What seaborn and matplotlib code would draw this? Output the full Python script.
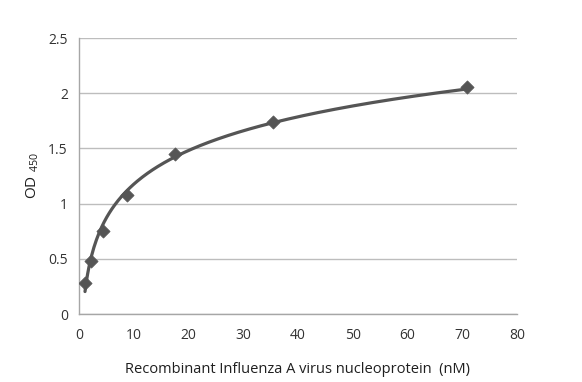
import numpy as np
import pandas as pd
import seaborn as sns
import matplotlib.pyplot as plt

# data
konsentrasi = [1.1, 2.2, 4.4, 8.8, 17.6, 35.4, 70.8]
od450 = [0.28, 0.48, 0.75, 1.08, 1.45, 1.74, 2.06]
x_ticks = [0, 10, 20, 30, 40, 50, 60, 70, 80]
y_ticks = [0, 0.5, 1, 1.5, 2, 2.5]

sns.set_style("white")
plt.rcParams['font.family'] = ['Open Sans', 'DejaVu Sans']
plt.rcParams['mathtext.fontset'] = 'custom'
plt.rcParams['mathtext.rm'] = 'Open Sans'

df = pd.DataFrame({'x': konsentrasi, 'y': od450})

# logarithmic trendline (like Excel)
a, b = np.polyfit(np.log(df['x']), df['y'], 1)
xs = np.linspace(df['x'].min(), df['x'].max(), 300)
fit = pd.DataFrame({'x': xs, 'y': a * np.log(xs) + b})

fig = plt.figure(figsize=(5.82, 3.82), dpi=100)
ax = fig.add_axes([0.1357, 0.178, 0.7526, 0.7225])

warna = '#555555'
sns.lineplot(data=fit, x='x', y='y', ax=ax, color=warna, linewidth=2.3)
sns.scatterplot(data=df, x='x', y='y', ax=ax, marker='D', s=45, color=warna,
                edgecolor=warna, zorder=3)

ax.set_xlim(0, 80)
ax.set_ylim(0, 2.5)
ax.set_xticks(x_ticks)
ax.set_yticks(y_ticks)
ax.set_xticklabels([str(t) for t in x_ticks])
ax.set_yticklabels(['0', '0.5', '1', '1.5', '2', '2.5'])

ax.yaxis.grid(True, color='#bdbdbd', linewidth=1)
ax.xaxis.grid(False)
ax.set_axisbelow(True)
for s in ['top', 'right']:
    ax.spines[s].set_visible(False)
for s in ['left', 'bottom']:
    ax.spines[s].set_color('#a6a6a6')
    ax.spines[s].set_linewidth(1)
ax.tick_params(axis='both', colors='#a6a6a6', length=4, width=1,
               labelcolor='#333333', labelsize=10, direction='out')
ax.tick_params(axis='x', pad=6)
ax.tick_params(axis='y', pad=4)

ax.set_xlabel('Recombinant Influenza A virus nucleoprotein  (nM)',
              fontsize=10.5, color='#1f1f1f', labelpad=14)
ax.set_ylabel(r'OD $_{\mathrm{450}}$', fontsize=11, color='#1f1f1f', labelpad=5)

fig.savefig('out.png', dpi=100)
